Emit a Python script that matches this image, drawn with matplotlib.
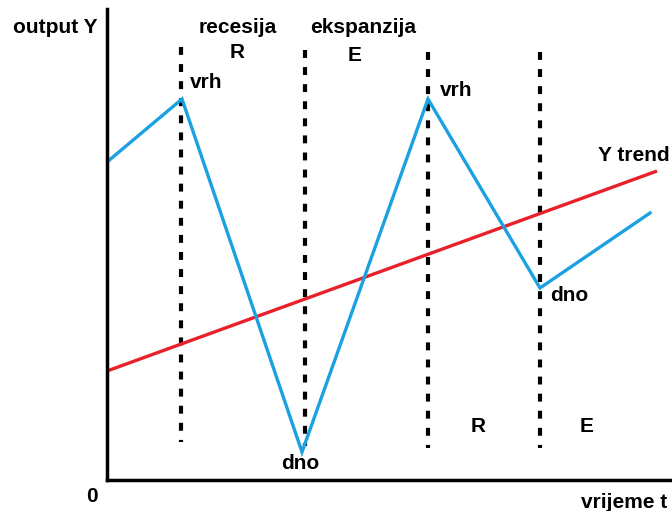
import matplotlib
matplotlib.use("Agg")
from matplotlib import pyplot as plt

# output Y (blue) - peaks and troughs
cycle_t = [0, 75, 195, 321, 433, 543]
cycle_y = [318, 381, 28, 381, 192, 267]

# trend line
trend_t = [0, 550]
trend_y = [109, 309]

# phase boundaries (vertical dashed lines)
phase_t = [74, 198, 321, 433]
phase_lo = [38, 34, 32, 32]
phase_hi = [433, 430, 428, 428]

plt.rcParams['font.family'] = ['Liberation Sans', 'DejaVu Sans']
plt.rcParams['font.weight'] = 'bold'

fig = plt.figure(figsize=(6.72, 5.11), dpi=100)
ax = fig.add_axes([107 / 672, 31 / 511, 565 / 672, 471 / 511])
ax.set_xlim(0, 565)
ax.set_ylim(0, 471)

for t, lo, hi in zip(phase_t, phase_lo, phase_hi):
    # draw from the top down so the top dash sits at the line's upper end
    ax.plot([t, t], [hi, lo], color='black', lw=3, dashes=(1.9, 2.2))

ax.plot(trend_t, trend_y, color='#e8202a', lw=2.4, solid_capstyle='butt')
ax.plot(cycle_t, cycle_y, color='#1ba1e2', lw=2.4, solid_joinstyle='miter')

for s in ['top', 'right']:
    ax.spines[s].set_visible(False)
for s in ['left', 'bottom']:
    ax.spines[s].set_linewidth(2.5)
ax.set_xticks([])
ax.set_yticks([])

fs = 15
ax.text(-94, 453, 'output Y', fontsize=fs, va='center', ha='left', clip_on=False)
ax.text(131, 453, 'recesija', fontsize=fs, va='center', ha='center')
ax.text(130, 428, 'R', fontsize=fs, va='center', ha='center')
ax.text(256, 453, 'ekspanzija', fontsize=fs, va='center', ha='center')
ax.text(248, 425, 'E', fontsize=fs, va='center', ha='center')
ax.text(83, 398, 'vrh', fontsize=fs, va='center', ha='left')
ax.text(333, 390, 'vrh', fontsize=fs, va='center', ha='left')
ax.text(563, 325, 'Y trend', fontsize=fs, va='center', ha='right', clip_on=False)
ax.text(193, 17, 'dno', fontsize=fs, va='center', ha='center')
ax.text(443, 185, 'dno', fontsize=fs, va='center', ha='left')
ax.text(371, 54, 'R', fontsize=fs, va='center', ha='center')
ax.text(480, 54, 'E', fontsize=fs, va='center', ha='center')
ax.text(-15, -16, '0', fontsize=fs, va='center', ha='center', clip_on=False)
ax.text(560, -23, 'vrijeme t', fontsize=fs, va='center', ha='right', clip_on=False)

fig.savefig('out.png', dpi=100)
